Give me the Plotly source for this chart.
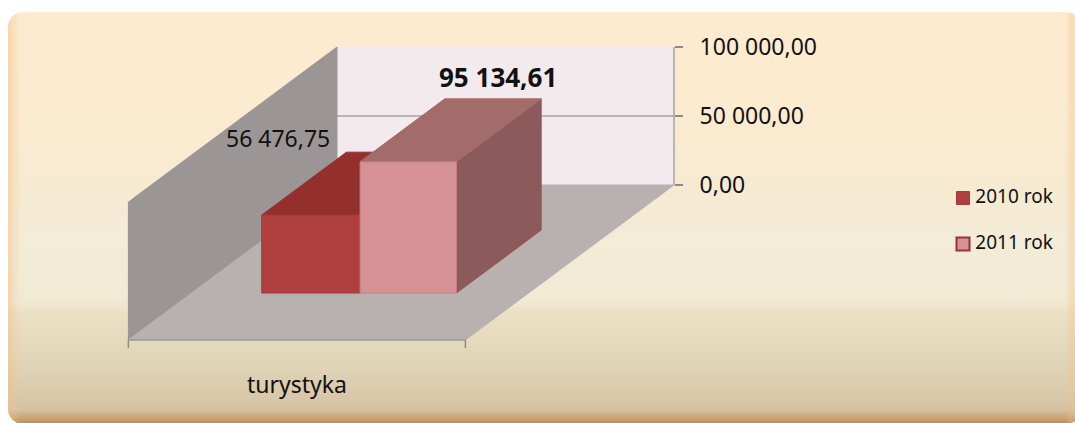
import numpy as np
import plotly.graph_objects as go

# ---- data
category = "turystyka"
series_names = ["2010 rok", "2011 rok"]
series_values = [56476.75, 95134.61]
value_labels = ["56 476,75", "95 134,61"]
tick_values = [0, 50000, 100000]
tick_labels = ["0,00", "50 000,00", "100 000,00"]

# ---- style / projection
W, H = 1075, 423
WALL_L, WALL_R = 337, 674        # pixel span of back wall
Y0, PX_PER_UNIT = 185, 138 / 100000
DEPTH_DX, DEPTH_DY = 208 / 336, 155 / PX_PER_UNIT   # oblique shift, in axis units
BAR_EDGES = [0.208, 0.5, 0.786]
BAR_D = (0.303, 0.709)
FONT = "Noto Sans"
FRONT = ["#B04040", "#D59194"]
TOP = ["#93302E", "#A36C6A"]
SIDE = ["#7E3030", "#8C5A5A"]
EDGE = ["#A83A3A", "#C47E80"]
LEGEND_LINE = ["#A53C3C", "#9C3238"]
LEGEND_WIDTH = [1, 2]
LEGEND_PX = [(963, 198), (963, 244)]

xr2 = [-WALL_L / (WALL_R - WALL_L), (W - WALL_L) / (WALL_R - WALL_L)]
yr2 = [(Y0 - H) / PX_PER_UNIT, Y0 / PX_PER_UNIT]


def proj(x, v, d):
    """d=1 at back wall, d=0 at front of floor"""
    return x - (1 - d) * DEPTH_DX, v - (1 - d) * DEPTH_DY


def poly(points, fill, line=None, width=1):
    pts = [proj(*p) for p in points]
    xs = [p[0] for p in pts] + [pts[0][0]]
    ys = [p[1] for p in pts] + [pts[0][1]]
    return go.Scatter(x=xs, y=ys, xaxis="x2", yaxis="y2", mode="lines", fill="toself",
                      fillcolor=fill, line=dict(color=line or fill, width=width),
                      hoverinfo="skip", showlegend=False)


def seg(points, color, width=1):
    pts = [proj(*p) for p in points]
    return go.Scatter(x=[p[0] for p in pts], y=[p[1] for p in pts], xaxis="x2", yaxis="y2",
                      mode="lines", line=dict(color=color, width=width),
                      hoverinfo="skip", showlegend=False)


# rounded panel in pixel axes (right edge runs off the page)
def rounded(x0, y0, x1, y1, r_right, r_left):
    t = np.linspace(0, np.pi / 2, 12)
    xs, ys = [], []
    for cx, cy, r, a in [(x1 - r_right, y0 + r_right, r_right, -np.pi / 2),
                         (x1 - r_right, y1 - r_right, r_right, 0),
                         (x0 + r_left, y1 - r_left, r_left, np.pi / 2),
                         (x0 + r_left, y0 + r_left, r_left, np.pi)]:
        xs += list(cx + r * np.cos(t + a))
        ys += list(cy + r * np.sin(t + a))
    return xs + xs[:1], ys + ys[:1]


px, py = rounded(8, 12, 1085, 424, 20, 15)
fig = go.Figure()
fig.add_trace(go.Scatter(
    x=px, y=py, mode="lines", line=dict(width=0), fill="toself", hoverinfo="skip", showlegend=False,
    fillgradient=dict(type="vertical", colorscale=[
        [0.00, "#B98A55"], [0.012, "#C89F6E"], [0.035, "#D5C2A3"], [0.13, "#DFD3B5"],
        [0.27, "#ECE0C5"], [0.30, "#F0EAD3"], [0.42, "#F2ECD7"], [0.56, "#F6EAD2"],
        [0.80, "#FCEBCF"], [1.00, "#FEEBCF"]])))
fig.add_trace(go.Scatter(
    x=px, y=py, mode="lines", line=dict(width=0), fill="toself", hoverinfo="skip", showlegend=False,
    fillgradient=dict(type="horizontal", colorscale=[
        [0.0, "rgba(245,190,130,0.5)"], [0.012, "rgba(245,200,150,0)"],
        [0.982, "rgba(245,200,150,0)"], [0.986, "rgba(245,190,130,0.3)"],
        [1.0, "rgba(245,190,130,0.3)"]])))

# walls and floor
hi = max(tick_values)
fig.add_trace(poly([(0, 0, 1), (1, 0, 1), (1, hi, 1), (0, hi, 1)], "#F3EAED"))
fig.add_trace(poly([(0, 0, 1), (0, hi, 1), (0, hi, 0), (0, 0, 0)], "#9C9595"))
fig.add_trace(poly([(0, 0, 0), (1, 0, 0), (1, 0, 1), (0, 0, 1)], "#B9B1AF"))
fig.add_trace(seg([(0, tick_values[1], 1), (1, tick_values[1], 1)], "#A9A2A2", 1.5))
fig.add_trace(seg([(1, 0, 1), (1, hi, 1)], "#A8A29C", 1.5))
fig.add_trace(seg([(0, 0, 0), (1, 0, 0)], "#A09A98", 1.5))
for tx in (0, 1):
    fig.add_trace(go.Scatter(
        x=[proj(tx, 0, 0)[0]] * 2, y=[proj(tx, 0, 0)[1], proj(tx, 0, 0)[1] - 8 / PX_PER_UNIT],
        xaxis="x2", yaxis="y2", mode="lines", line=dict(color="#8E8A86", width=1.5),
        hoverinfo="skip", showlegend=False))

# bars
d0, d1 = BAR_D
for i, v in enumerate(series_values):
    a, b = BAR_EDGES[i], BAR_EDGES[i + 1]
    fig.add_trace(poly([(b, 0, d0), (b, 0, d1), (b, v, d1), (b, v, d0)], SIDE[i]))
    fig.add_trace(poly([(a, v, d0), (b, v, d0), (b, v, d1), (a, v, d1)], TOP[i]))
    fig.add_trace(poly([(a, 0, d0), (b, 0, d0), (b, v, d0), (a, v, d0)], FRONT[i], EDGE[i]))

# legend keys with their labels
for i, name in enumerate(series_names):
    fig.add_trace(go.Scatter(
        x=[LEGEND_PX[i][0]], y=[LEGEND_PX[i][1]], mode="markers+text", name=name,
        text=["\u2009" + name], textposition="middle right", hoverinfo="skip", showlegend=False,
        textfont=dict(family=FONT, size=19, color="#111111"),
        marker=dict(symbol="square", size=13, color=FRONT[i],
                    line=dict(color=LEGEND_LINE[i], width=LEGEND_WIDTH[i]))))

# labels
ax, ay = proj((BAR_EDGES[0] + BAR_EDGES[1]) / 2, series_values[0], d1)
bx, by = proj((BAR_EDGES[1] + BAR_EDGES[2]) / 2, series_values[1], d1)
cx, cy = proj(0.5, 0, 0)
annotations = [
    dict(x=ax, y=ay, xref="x2", yref="y2", text=value_labels[0], showarrow=False,
         xshift=-118, yshift=14, font=dict(family=FONT, size=23, color="#111111")),
    dict(x=bx, y=by, xref="x2", yref="y2", text=f"<b>{value_labels[1]}</b>", showarrow=False,
         xshift=5, yshift=22, font=dict(family=FONT, size=26, color="#111111")),
    dict(x=cx, y=cy, xref="x2", yref="y2", text=category, showarrow=False,
         xshift=0, yshift=-44, font=dict(family=FONT, size=23, color="#111111")),
]

fig.update_layout(
    width=W, height=H, autosize=False, margin=dict(l=0, r=0, t=0, b=0),
    paper_bgcolor="white", plot_bgcolor="rgba(0,0,0,0)", showlegend=False,
    xaxis=dict(range=[0, W], visible=False, domain=[0, 1], fixedrange=True),
    yaxis=dict(range=[H, 0], visible=False, domain=[0, 1], fixedrange=True),
    xaxis2=dict(range=xr2, visible=False, overlaying="x", anchor="y2", fixedrange=True),
    yaxis2=dict(range=yr2, overlaying="y", anchor="free", position=WALL_R / W, side="right",
                tickmode="array", tickvals=tick_values, ticktext=tick_labels,
                ticks="outside", ticklen=8, tickwidth=1.5, tickcolor="#8E8A86",
                ticklabelstandoff=12, showgrid=False, zeroline=False, showline=False,
                tickfont=dict(family=FONT, size=23, color="#111111"), fixedrange=True),
    annotations=annotations,
)
fig.write_html("out.html", config=dict(displayModeBar=False),
               post_script="document.body.style.margin='0';document.body.style.overflow='hidden';")
